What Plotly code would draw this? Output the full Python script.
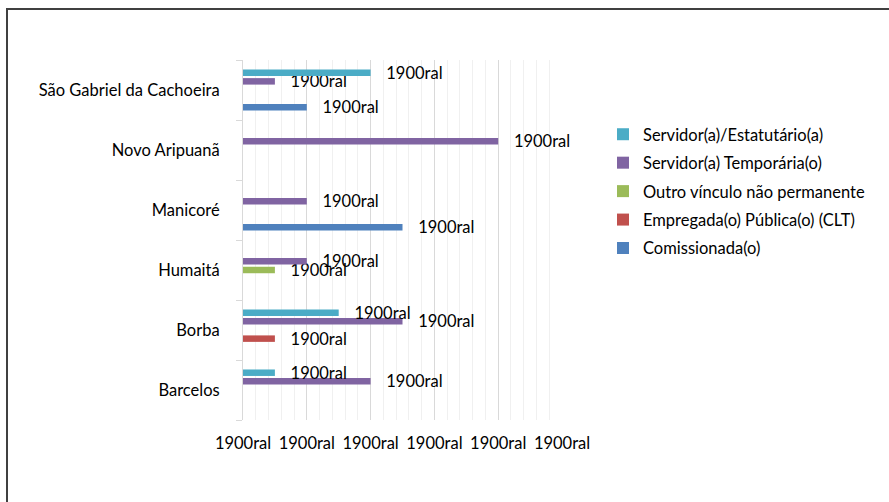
import plotly.graph_objects as go

categories = ["Barcelos", "Borba", "Humaitá", "Manicoré", "Novo Aripuanã", "São Gabriel da Cachoeira"]

series_names = [
    "Comissionada(o)",
    "Empregada(o) Pública(o) (CLT)",
    "Outro vínculo não permanente",
    "Servidor(a) Temporária(o)",
    "Servidor(a)/Estatutário(a)",
]
comissionada = [None, None, None, 5, None, 2]
clt = [None, 1, None, None, None, None]
outro = [None, None, 1, None, None, None]
temporaria = [4, 5, 2, 2, 8, 1]
estatutario = [1, 3, None, None, None, 4]

series_values = [comissionada, clt, outro, temporaria, estatutario]
colors = ["#4F81BD", "#C0504D", "#9BBB59", "#8064A2", "#4BACC6"]

x_tickvals = [0, 2, 4, 6, 8, 10]
x_ticktext = ["1900ral"] * 6
label_text = "1900ral"

FONT = "Lato"
FS = 16.5

fig = go.Figure()
n = len(series_names)
for i, (name, vals, col) in enumerate(zip(series_names, series_values, colors)):
    fig.add_trace(go.Bar(
        y=categories, x=vals, name=name, orientation="h",
        marker=dict(color=col, line=dict(width=0)),
        text=[("\u00a0\u00a0\u00a0" + label_text) if v is not None else "" for v in vals],
        textposition="outside",
        textfont=dict(family=FONT, size=FS, color="#000000"),
        constraintext="none",
        cliponaxis=False,
        legendgroup="g%d" % i,
        legendrank=n - i,
        hoverinfo="skip",
    ))

W, H = 889, 502
L, R, T, B = 243, 562, 60, 420
pw, ph = R - L, B - T

def px(x):
    return (x - L) / pw

def py(y):
    return (B - y) / ph

fig.update_layout(
    width=W, height=H,
    margin=dict(l=L, r=W - R, t=T, b=H - B, pad=0),
    paper_bgcolor="white", plot_bgcolor="white",
    barmode="group", bargap=0.28, bargroupgap=0.25,
    font=dict(family=FONT, size=FS, color="#000000"),
    showlegend=True,
    legend=dict(
        x=px(603), y=py(117), xanchor="left", yanchor="top",
        traceorder="grouped", tracegroupgap=4,
        font=dict(family=FONT, size=FS, color="#000000"),
        bgcolor="rgba(0,0,0,0)",
        itemwidth=30,
    ),
    xaxis=dict(
        range=[0, 10], tickvals=x_tickvals, ticktext=x_ticktext,
        showgrid=True, gridcolor="#D9D9D9", gridwidth=1,
        minor=dict(dtick=0.4, tick0=0, showgrid=True, gridcolor="#F0F0F0", gridwidth=1),
        zeroline=False, showline=False, ticks="",
        tickfont=dict(family=FONT, size=FS, color="#000000"),
        ticklabelstandoff=11,
        fixedrange=True,
    ),
    yaxis=dict(
        type="category", categoryorder="array", categoryarray=categories,
        showgrid=False, zeroline=False,
        showline=True, linecolor="#D9D9D9", linewidth=1,
        ticks="outside", tickson="boundaries", ticklen=6, tickcolor="#D9D9D9",
        tickfont=dict(family=FONT, size=FS, color="#000000"),
        ticklabelstandoff=19,
        fixedrange=True,
    ),
    shapes=[dict(
        type="rect", xref="paper", yref="paper",
        x0=px(7), x1=px(900), y0=py(515), y1=py(9),
        line=dict(color="#404040", width=2), fillcolor="rgba(0,0,0,0)", layer="below",
    )],
)

fig.write_html("out.html")
